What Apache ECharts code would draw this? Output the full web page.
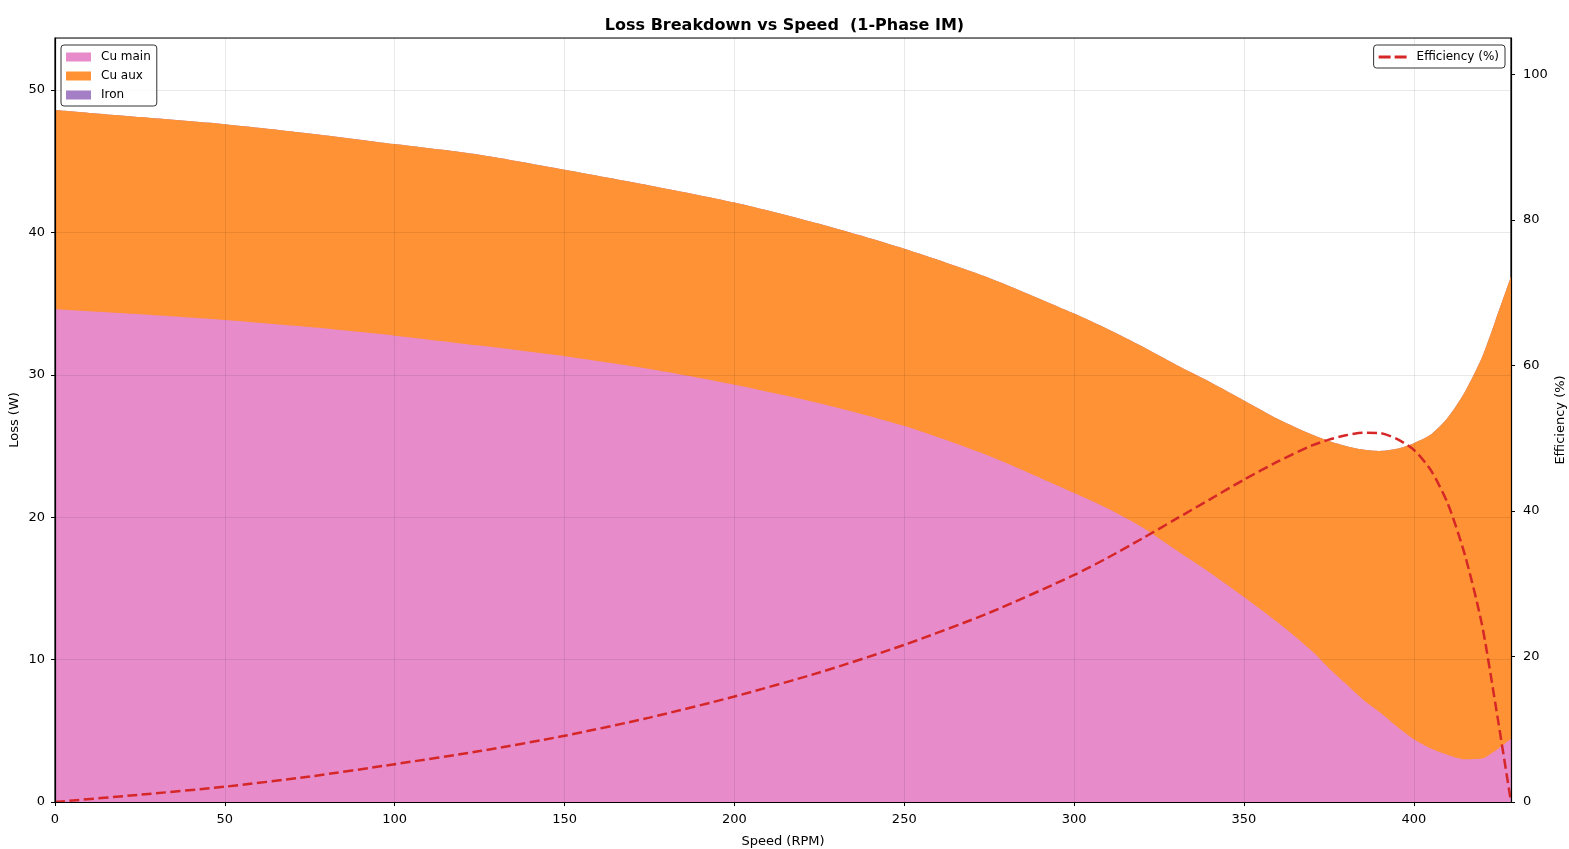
<!DOCTYPE html>
<html>
<head>
<meta charset="utf-8">
<title>Loss Breakdown vs Speed</title>
<script src="https://cdn.jsdelivr.net/npm/echarts@6/dist/echarts.min.js"></script>
<style>
  html, body { margin: 0; padding: 0; background: #fff; }
  #main { width: 1569px; height: 849px; }
</style>
</head>
<body>
<div id="main"></div>
<script>
// speed points (RPM)
var speed = [0, 25, 50, 75, 100, 125, 150, 175, 200, 225, 250, 275, 300, 310, 320, 330, 340, 350, 360, 370, 375, 380, 385, 390, 395, 400, 405, 410, 415, 420, 424, 428.6];
// copper loss, main winding (W)
var cuMain = [34.6, 34.25, 33.85, 33.35, 32.75, 32.05, 31.3, 30.4, 29.3, 28.0, 26.4, 24.3, 21.7, 20.6, 19.3, 17.7, 16.1, 14.4, 12.6, 10.6, 9.4, 8.3, 7.2, 6.3, 5.3, 4.4, 3.75, 3.3, 3.0, 3.05, 3.6, 4.45];
// copper loss, aux winding (W)
var cuAux = [14.0, 13.85, 13.75, 13.6, 13.45, 13.4, 13.1, 12.9, 12.8, 12.6, 12.45, 12.5, 12.6, 12.6, 12.7, 13.0, 13.4, 13.8, 14.3, 15.2, 15.95, 16.7, 17.55, 18.35, 19.5, 20.8, 22.05, 23.7, 25.8, 28.15, 30.2, 32.45];
// iron loss (W) - too small to see
var iron = [0, 0, 0, 0, 0, 0, 0, 0, 0, 0, 0, 0, 0, 0, 0, 0, 0, 0, 0, 0, 0, 0, 0, 0, 0, 0, 0, 0, 0, 0, 0, 0];
// efficiency (%)
var eff = [0, 1.0, 2.1, 3.5, 5.2, 7.0, 9.1, 11.6, 14.5, 17.8, 21.6, 26.0, 31.2, 33.6, 36.2, 38.9, 41.6, 44.3, 46.8, 49.0, 49.8, 50.4, 50.75, 50.7, 49.9, 48.4, 45.6, 41.0, 34.0, 24.5, 13.5, 0];

var xTicks = [0, 50, 100, 150, 200, 250, 300, 350, 400];

// running totals for the stacked bands (echarts stacks on x when both axes are value axes)
var lvl1 = cuMain.slice();
var lvl2 = lvl1.map(function (v, i) { return v + cuAux[i]; });
var lvl3 = lvl2.map(function (v, i) { return v + iron[i]; });

function pairs(ys) {
    return speed.map(function (x, i) { return [x, ys[i]]; });
}

var font = 'DejaVu Sans';
var myChart = echarts.init(document.getElementById('main'));

function band(name, ys, color, z) {
    return {
        name: name,
        type: 'line',
        data: pairs(ys),
        smooth: 0.25,
        showSymbol: false,
        color: color,
        lineStyle: { width: 0 },
        areaStyle: { color: color, opacity: 1, origin: 'start' },
        z: z
    };
}

var axisCommon = {
    axisLine: { show: true, lineStyle: { color: '#000', width: 1.2 } },
    axisTick: { show: true, length: 4, lineStyle: { color: '#000' } },
    nameTextStyle: { fontFamily: font, fontSize: 13, color: '#000' }
};
// translucent grid so it shows faintly over the filled bands
var gridLine = { show: true, lineStyle: { color: 'rgba(0,0,0,0.085)', width: 1 } };

var option = {
    backgroundColor: '#fff',
    animation: false,
    textStyle: { fontFamily: font },
    title: {
        text: 'Loss Breakdown vs Speed  (1-Phase IM)',
        left: 'center',
        top: 13,
        textStyle: { fontFamily: font, fontSize: 16, fontWeight: 'bold', color: '#000' }
    },
    legend: [{
        data: ['Cu main', 'Cu aux', 'Iron'],
        orient: 'vertical',
        left: 61,
        top: 45,
        padding: [6, 6, 5, 5],
        itemGap: 7,
        itemWidth: 25,
        itemHeight: 9,
        icon: 'rect',
        borderColor: '#333',
        borderWidth: 1,
        borderRadius: 3,
        backgroundColor: 'rgba(255,255,255,0.8)',
        textStyle: { fontFamily: font, fontSize: 12, color: '#000', padding: [0, 0, 0, 5] },
        z: 20
    }, {
        data: [{ name: 'Efficiency (%)', icon: 'path://M0,0H12V3H0ZM16,0H28V3H16Z' }],
        right: 64,
        top: 45,
        padding: [6, 6, 5, 5],
        itemWidth: 28,
        itemHeight: 3,
        borderColor: '#333',
        borderWidth: 1,
        borderRadius: 3,
        backgroundColor: 'rgba(255,255,255,0.8)',
        textStyle: { fontFamily: font, fontSize: 12, color: '#000', padding: [0, 0, 0, 5] },
        z: 20
    }],
    grid: {
        left: 55, right: 58, top: 38, bottom: 47,
        show: true, borderColor: '#000', borderWidth: 1.2,
        containLabel: false,
        outerBoundsMode: 'none'
    },
    xAxis: {
        type: 'value',
        min: 0,
        max: 428.6,
        interval: 50,
        z: 10,
        name: 'Speed (RPM)',
        nameLocation: 'middle',
        nameGap: 33,
        nameMoveOverlap: false,
        nameTextStyle: axisCommon.nameTextStyle,
        axisLine: axisCommon.axisLine,
        axisTick: axisCommon.axisTick,
        axisLabel: {
            fontFamily: font, fontSize: 13, color: '#000', margin: 11,
            showMaxLabel: false,
            formatter: function (v) { return xTicks.indexOf(v) >= 0 ? String(v) : ''; }
        },
        splitLine: gridLine
    },
    yAxis: [{
        type: 'value',
        min: 0,
        max: 53.65,
        interval: 10,
        z: 10,
        name: 'Loss (W)',
        nameLocation: 'middle',
        nameGap: 34,
        nameMoveOverlap: false,
        nameTextStyle: axisCommon.nameTextStyle,
        axisLine: axisCommon.axisLine,
        axisTick: axisCommon.axisTick,
        axisLabel: {
            fontFamily: font, fontSize: 13, color: '#000', margin: 10,
            showMaxLabel: false,
            formatter: function (v) { return v % 10 === 0 ? String(v) : ''; }
        },
        splitLine: gridLine
    }, {
        type: 'value',
        min: 0,
        max: 105,
        interval: 20,
        position: 'right',
        z: 10,
        name: 'Efficiency (%)',
        nameLocation: 'middle',
        nameGap: 43,
        nameMoveOverlap: false,
        nameTextStyle: axisCommon.nameTextStyle,
        axisLine: axisCommon.axisLine,
        axisTick: axisCommon.axisTick,
        axisLabel: {
            fontFamily: font, fontSize: 13, color: '#000', margin: 12,
            showMaxLabel: false,
            formatter: function (v) { return v % 20 === 0 ? String(v) : ''; }
        },
        splitLine: { show: false }
    }],
    series: [
        band('Iron', lvl3, '#a57fc6', 2),
        band('Cu aux', lvl2, '#ff9234', 3),
        band('Cu main', lvl1, '#e78bcb', 4),
        {
            name: 'Efficiency (%)',
            type: 'line',
            yAxisIndex: 1,
            data: pairs(eff),
            smooth: 0.25,
            showSymbol: false,
            color: '#d62728',
            lineStyle: { color: '#d62728', width: 2.5, type: [10, 4.5] },
            z: 6
        }
    ]
};
myChart.setOption(option);
</script>
</body>
</html>
